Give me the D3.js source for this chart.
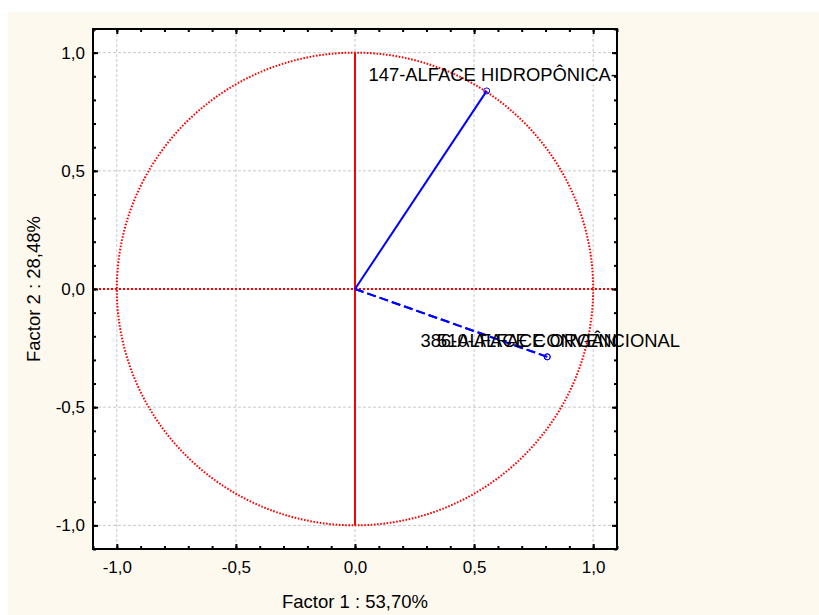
<!DOCTYPE html>
<html>
<head>
<meta charset="utf-8">
<script src="https://cdn.jsdelivr.net/npm/d3@7"></script>
<style>
  body { margin: 0; background: #ffffff; }
  text { font-family: Arial, "Liberation Sans", sans-serif; fill: #000; }
</style>
</head>
<body>
<div id="chart"></div>
<script>
// values
var majorTicks = [-1, -0.5, 0, 0.5, 1];
var minorTicks = d3.range(-11, 12).map(function(d){ return d / 10; });
var varNames = ["147-ALFACE HIDROPÔNICA-", "386-ALFACE CONVENCIONAL", "510-ALFACE ORGÂNICA"];
var factor1 = [0.553, 0.807, 0.807];
var factor2 = [0.838, -0.287, -0.287];
var lineKind = ["solid", "dashed", "dashed"];
var xTitle = "Factor 1 : 53,70%";
var yTitle = "Factor 2 : 28,48%";

var W = 819, H = 615;
var margin = {left: 93, right: 202, top: 29, bottom: 66};
var width = W - margin.left - margin.right;
var height = H - margin.top - margin.bottom;

var svg = d3.select("#chart").append("svg")
  .attr("width", W)
  .attr("height", H);

// cream backdrop
svg.append("rect")
  .attr("x", 8).attr("y", 12)
  .attr("width", W - 8).attr("height", H - 12)
  .attr("fill", "#fdf9ee");

var defs = svg.append("defs");
defs.append("clipPath").attr("id", "plotclip")
  .append("rect").attr("width", width).attr("height", height);

var g = svg.append("g")
  .attr("transform", "translate(" + margin.left + "," + margin.top + ")");

g.append("rect")
  .attr("width", width).attr("height", height)
  .attr("fill", "#ffffff");

var x = d3.scaleLinear().domain([-1.1, 1.1]).range([0, width]);
var y = d3.scaleLinear().domain([-1.1, 1.1]).range([height, 0]);

// grid
g.append("g").selectAll("line.vg")
  .data(majorTicks).enter().append("line")
  .attr("x1", function(d){ return x(d); }).attr("x2", function(d){ return x(d); })
  .attr("y1", 0).attr("y2", height)
  .attr("stroke", "#c8c8c8").attr("stroke-width", 1).attr("stroke-dasharray", "3,2");
g.append("g").selectAll("line.hg")
  .data(majorTicks).enter().append("line")
  .attr("y1", function(d){ return y(d); }).attr("y2", function(d){ return y(d); })
  .attr("x1", 0).attr("x2", width)
  .attr("stroke", "#c8c8c8").attr("stroke-width", 1).attr("stroke-dasharray", "3,2");

// unit circle
g.append("ellipse")
  .attr("cx", x(0)).attr("cy", y(0))
  .attr("rx", x(1) - x(0)).attr("ry", y(0) - y(1))
  .attr("fill", "none")
  .attr("stroke", "#ff0000").attr("stroke-width", 2)
  .attr("stroke-dasharray", "1.6,1.6");

// horizontal dotted through origin
g.append("line")
  .attr("x1", 2).attr("x2", width).attr("y1", y(0)).attr("y2", y(0))
  .attr("stroke", "#ff0000").attr("stroke-width", 2)
  .attr("stroke-dasharray", "2,2");

// vertical solid through origin
g.append("line")
  .attr("x1", x(0)).attr("x2", x(0)).attr("y1", y(1)).attr("y2", y(-1))
  .attr("stroke", "#ff0000").attr("stroke-width", 2);

// variable vectors
var idx = d3.range(varNames.length);
g.append("g").selectAll("line.vec")
  .data(idx).enter().append("line")
  .attr("x1", x(0)).attr("y1", y(0))
  .attr("x2", function(i){ return x(factor1[i]); })
  .attr("y2", function(i){ return y(factor2[i]); })
  .attr("stroke", "#0000ff").attr("stroke-width", 2)
  .attr("stroke-dasharray", function(i){ return lineKind[i] == "dashed" ? "9,4" : null; });

g.append("g").selectAll("circle")
  .data(idx).enter().append("circle")
  .attr("cx", function(i){ return x(factor1[i]); })
  .attr("cy", function(i){ return y(factor2[i]); })
  .attr("r", 3)
  .attr("fill", "none").attr("stroke", "#0000ff").attr("stroke-width", 1);

// labels (the first and third get cut at the frame, like the original)
var labelDx = [6, 3, -5];
var clipped = [true, false, true];
idx.forEach(function(i){
  g.append("text")
    .attr("x", x(factor1[i]) + labelDx[i])
    .attr("y", y(factor2[i]) - 9.5)
    .attr("text-anchor", "middle")
    .attr("font-size", "18.4px")
    .attr("clip-path", clipped[i] ? "url(#plotclip)" : null)
    .text(varNames[i]);
});

// ticks on all four sides, pointing in
function tickAxis(axisFn, scale, vals, size, transform) {
  var a = g.append("g")
    .attr("transform", transform)
    .call(axisFn(scale).tickValues(vals).tickSize(-size).tickFormat(""));
  a.select(".domain").remove();
  a.selectAll("line").attr("stroke", "#000").attr("stroke-width", 2);
}
[[minorTicks, 3], [majorTicks, 5]].forEach(function(t){
  tickAxis(d3.axisBottom, x, t[0], t[1], "translate(0," + height + ")");
  tickAxis(d3.axisTop, x, t[0], t[1], "translate(0,0)");
  tickAxis(d3.axisLeft, y, t[0], t[1], "translate(0,0)");
  tickAxis(d3.axisRight, y, t[0], t[1], "translate(" + width + ",0)");
});

var fmt = function(d){ return d3.format(".1f")(d).replace(".", ",").replace("−", "-"); };

var xLab = g.append("g")
  .attr("transform", "translate(0," + height + ")")
  .call(d3.axisBottom(x).tickValues(majorTicks).tickSize(0).tickPadding(12).tickFormat(fmt));
xLab.select(".domain").remove();
xLab.selectAll("text").attr("font-size", "17px").attr("font-family", "Arial, 'Liberation Sans', sans-serif");

var yLab = g.append("g")
  .call(d3.axisLeft(y).tickValues(majorTicks).tickSize(0).tickPadding(8).tickFormat(fmt));
yLab.select(".domain").remove();
yLab.selectAll("text").attr("font-size", "17px").attr("font-family", "Arial, 'Liberation Sans', sans-serif");

// frame
g.append("rect")
  .attr("width", width).attr("height", height)
  .attr("fill", "none").attr("stroke", "#000").attr("stroke-width", 2);

// axis titles
g.append("text")
  .attr("x", x(0)).attr("y", height + 59)
  .attr("text-anchor", "middle")
  .attr("font-size", "18.5px")
  .text(xTitle);

svg.append("text")
  .attr("transform", "translate(40," + (margin.top + y(0)) + ") rotate(-90)")
  .attr("text-anchor", "middle")
  .attr("font-size", "18.5px")
  .text(yTitle);
</script>
</body>
</html>
